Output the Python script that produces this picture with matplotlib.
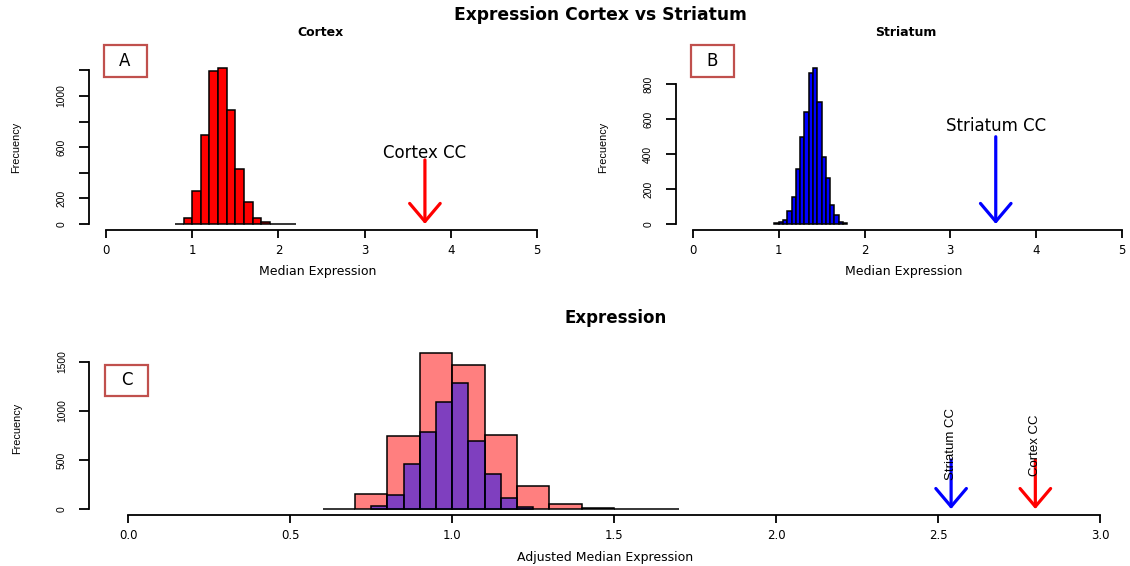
import matplotlib
matplotlib.use('Agg')
import matplotlib.pyplot as plt
import matplotlib.patches as mpatches
from matplotlib import font_manager
import numpy as np

W, H = 1130, 566

# ── data ──────────────────────────────────────────────────────────────────
cortex_edges = [0.8, 0.9, 1.0, 1.1, 1.2, 1.3, 1.4, 1.5, 1.6, 1.7, 1.8, 1.9, 2.0, 2.1, 2.2]
cortex_counts = [2, 50, 258, 694, 1193, 1219, 893, 431, 170, 50, 13, 3, 3, 2]

striatum_edges = [0.95, 1.0, 1.05, 1.1, 1.15, 1.2, 1.25, 1.3, 1.35, 1.4,
                  1.45, 1.5, 1.55, 1.6, 1.65, 1.7, 1.75, 1.8]
striatum_counts = [4, 10, 23, 73, 153, 314, 496, 642, 868, 895,
                   699, 381, 264, 111, 52, 13, 6]

adj_cortex_edges = [0.6, 0.7, 0.8, 0.9, 1.0, 1.1, 1.2, 1.3, 1.4, 1.5, 1.6, 1.7]
adj_cortex_counts = [5, 155, 740, 1595, 1466, 754, 239, 48, 7, 5, 4]

adj_striatum_edges = [0.75, 0.8, 0.85, 0.9, 0.95, 1.0, 1.05, 1.1, 1.15, 1.2, 1.25]
adj_striatum_counts = [34, 146, 462, 781, 1093, 1283, 689, 356, 112, 25]

cortex_cc = 3.70
striatum_cc = 3.53
cortex_cc_adj = 2.80
striatum_cc_adj = 2.54

ab_xticks = [0, 1, 2, 3, 4, 5]
a_yticks = [0, 200, 400, 600, 800, 1000, 1200]
a_ylabels = ['0', '200', '', '600', '', '1000', '']
b_yticks = [0, 200, 400, 600, 800]
c_xticks = [0.0, 0.5, 1.0, 1.5, 2.0, 2.5, 3.0]
c_yticks = [0, 500, 1000, 1500]

# ── fonts: vertical text in the reference is condensed ────────────────────
if any(f.name == 'Liberation Sans Narrow' for f in font_manager.fontManager.ttflist):
    NARROW, NSCALE, SMALL_SCALE = 'Liberation Sans Narrow', 1.0, 1.0
else:
    NARROW, NSCALE, SMALL_SCALE = 'Liberation Sans', 0.82, 0.92

BOX_RED = '#C0504D'
ARROW_TOP = 500


def fx(px):
    return px / W


def fy(py):
    return 1 - py / H


def setup_axes(ax, xmax, xticks, xlabels, yticks, ylabels, ytop):
    ax.set_xlim(-0.04 * xmax, xmax * 1.04)
    ax.set_ylim(-0.04 * ytop, ytop * 1.04)
    for s in ('top', 'right'):
        ax.spines[s].set_visible(False)
    for s in ('left', 'bottom'):
        ax.spines[s].set_linewidth(1.3)
    ax.spines['left'].set_bounds(0, yticks[-1])
    ax.spines['bottom'].set_bounds(0, xmax)
    ax.set_xticks(xticks, xlabels, fontsize=8.5)
    ax.set_yticks(yticks, ylabels, rotation=90, va='center',
                  fontfamily=NARROW, fontsize=8 * SMALL_SCALE)
    ax.tick_params(axis='x', length=5.8, width=1.3, pad=4)
    ax.tick_params(axis='y', length=7.2, width=1.3, pad=9)
    ax.patch.set_visible(False)


def cc_arrow(ax, x, color):
    ax.annotate('', xy=(x, 0), xytext=(x, ARROW_TOP),
                arrowprops=dict(arrowstyle='->,head_length=1.3,head_width=1.1',
                                color=color, lw=2.3, shrinkA=0, shrinkB=0))


def panel_box(fig, x0, y0, x1, y1, letter):
    fig.add_artist(mpatches.Rectangle((fx(x0), fy(y1)), (x1 - x0) / W, (y1 - y0) / H,
                                      transform=fig.transFigure, fill=False,
                                      edgecolor=BOX_RED, lw=1.6))
    fig.text(fx((x0 + x1) / 2), fy((y0 + y1) / 2), letter, ha='center',
             va='center', fontsize=12)


fig = plt.figure(figsize=(W / 100, H / 100), dpi=100)

# ── A: Cortex ─────────────────────────────────────────────────────────────
ax_a = fig.add_axes([fx(88.8), fy(230.2), 465.4 / W, 168.6 / H])
ax_a.bar(cortex_edges[:-1], cortex_counts, width=np.diff(cortex_edges),
         align='edge', color='#FF0000', edgecolor='black', linewidth=1.1)
setup_axes(ax_a, 5, ab_xticks, [str(t) for t in ab_xticks],
           a_yticks, a_ylabels, max(cortex_counts))
cc_arrow(ax_a, cortex_cc, '#FF0000')
ax_a.text(cortex_cc, 555, 'Cortex CC', ha='center', va='center', fontsize=12)

# ── B: Striatum ───────────────────────────────────────────────────────────
ax_b = fig.add_axes([fx(675.8), fy(230.2), 463.2 / W, 168.6 / H])
ax_b.bar(striatum_edges[:-1], striatum_counts, width=np.diff(striatum_edges),
         align='edge', color='#0000FF', edgecolor='black', linewidth=1.1)
setup_axes(ax_b, 5, ab_xticks, [str(t) for t in ab_xticks],
           b_yticks, [str(t) for t in b_yticks], max(striatum_counts))
cc_arrow(ax_b, striatum_cc, '#0000FF')
ax_b.text(striatum_cc, 560, 'Striatum CC', ha='center', va='center', fontsize=12)

# ── C: adjusted, overlaid ─────────────────────────────────────────────────
ax_c = fig.add_axes([fx(89.4), fy(515.3), 1049.6 / W, 168.9 / H])
ax_c.bar(adj_cortex_edges[:-1], adj_cortex_counts, width=np.diff(adj_cortex_edges),
         align='edge', facecolor=(1, 0, 0, 0.5), edgecolor='black', linewidth=1.1)
ax_c.bar(adj_striatum_edges[:-1], adj_striatum_counts,
         width=np.diff(adj_striatum_edges), align='edge',
         facecolor=(0, 0, 1, 0.5), edgecolor='black', linewidth=1.1)
setup_axes(ax_c, 3, c_xticks, ['%.1f' % t for t in c_xticks],
           c_yticks, [str(t) for t in c_yticks],
           max(max(adj_cortex_counts), max(adj_striatum_counts)))
cc_arrow(ax_c, striatum_cc_adj, '#0000FF')
cc_arrow(ax_c, cortex_cc_adj, '#FF0000')
ax_c.text(striatum_cc_adj, 665, 'Striatum CC', rotation=90, ha='center',
          va='center', fontfamily=NARROW, fontsize=11.6 * NSCALE)
ax_c.text(cortex_cc_adj, 655, 'Cortex CC', rotation=90, ha='center',
          va='center', fontfamily=NARROW, fontsize=11.6 * NSCALE)

# ── titles & labels ───────────────────────────────────────────────────────
fig.text(fx(600), fy(15), 'Expression Cortex vs Striatum', ha='center',
         va='center', fontsize=12.3, fontweight='bold')
fig.text(fx(320), fy(33), 'Cortex', ha='center', va='center', fontsize=9,
         fontweight='bold')
fig.text(fx(906), fy(33), 'Striatum', ha='center', va='center', fontsize=9,
         fontweight='bold')
fig.text(fx(616), fy(318), 'Expression', ha='center', va='center', fontsize=12,
         fontweight='bold')

fig.text(fx(318), fy(271.5), 'Median Expression', ha='center', va='center', fontsize=9)
fig.text(fx(904), fy(271.5), 'Median Expression', ha='center', va='center', fontsize=9)
fig.text(fx(605), fy(557), 'Adjusted Median Expression', ha='center',
         va='center', fontsize=9)

for x, y in [(16, 147.5), (603, 147.5), (17.5, 428)]:
    fig.text(fx(x), fy(y), 'Frecuency', rotation=90, ha='center', va='center',
             fontfamily=NARROW, fontsize=8.5 * SMALL_SCALE)

panel_box(fig, 103.5, 45.5, 146.5, 76.5, 'A')
panel_box(fig, 691, 45.5, 733.5, 76.5, 'B')
panel_box(fig, 105, 364.7, 148, 395.7, 'C')

fig.savefig('out.png', dpi=100)
